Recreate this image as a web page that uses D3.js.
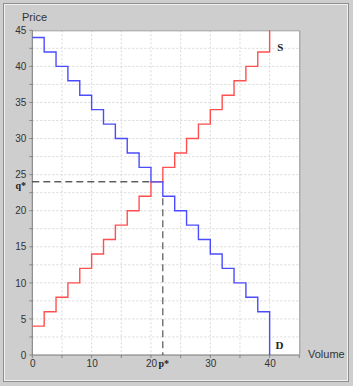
<!DOCTYPE html>
<html><head><meta charset="utf-8">
<script src="https://cdn.jsdelivr.net/npm/d3@7"></script>
<style>
html,body{margin:0;padding:0;background:#cecece;}
svg{display:block;}
</style></head>
<body>
<svg id="c" width="353" height="386"></svg>
<script>
// Step data: each step covers [x, x+2)
const stepStarts = [0,2,4,6,8,10,12,14,16,18,20,22,24,26,28,30,32,34,36,38];
const supplyValues = [4,6,8,10,12,14,16,18,20,22,24,26,28,30,32,34,36,38,40,42];
const demandValues = [44,42,40,38,36,34,32,30,28,26,24,22,20,18,16,14,12,10,8,6];
const supplyEnd = {x:40, y:45};
const demandEnd = {x:40, y:0};
const xTicks = [0,10,20,30,40];
const yTicks = [0,5,10,15,20,25,30,35,40,45];
const eq = {q:24, pStart:20, pX:22, pTop:22};

const sans="'Liberation Sans',Arial,sans-serif";
const serif="'Liberation Serif','DejaVu Serif',serif";
const svg = d3.select("#c");
const L=32.3, R=299.3, T=30.3, B=355;
const x = d3.scaleLinear().domain([0,45]).range([L,R]);
const y = d3.scaleLinear().domain([0,45]).range([B,T]);

// outer etched border
svg.append("rect").attr("x",3.5).attr("y",3.5).attr("width",345).attr("height",378)
  .attr("fill","none").attr("stroke","#8f8f8f");
svg.append("rect").attr("x",4.5).attr("y",4.5).attr("width",343).attr("height",376)
  .attr("fill","none").attr("stroke","#f0f0f0");

// plot background
svg.append("rect").attr("x",L).attr("y",T).attr("width",R-L).attr("height",B-T).attr("fill","#fff");

// grid
const g = svg.append("g");
g.selectAll(".gx").data(d3.range(5,45,5)).join("line")
  .attr("x1",d=>x(d)).attr("x2",d=>x(d)).attr("y1",T).attr("y2",B)
  .attr("stroke","#d8d8d8").attr("stroke-dasharray","2,2");
g.selectAll(".gy").data(d3.range(2.5,45,2.5)).join("line")
  .attr("y1",d=>y(d)).attr("y2",d=>y(d)).attr("x1",L).attr("x2",R)
  .attr("stroke","#d8d8d8").attr("stroke-dasharray","2,2");

// frame top/right
svg.append("path").attr("d",`M${L},${T+0.5}H${R+0.5}V${B}`).attr("fill","none").attr("stroke","#999");

// axes
const xAxis = d3.axisBottom(x).tickValues(xTicks).tickSize(0).tickPadding(5).tickFormat(d3.format("d"));
const yAxis = d3.axisLeft(y).tickValues(yTicks).tickSize(0).tickPadding(6).tickFormat(d3.format("d"));
const ga = svg.append("g").attr("transform",`translate(0,${B})`).call(xAxis);
const gb = svg.append("g").attr("transform",`translate(${L},0)`).call(yAxis);
[ga,gb].forEach(a=>{a.select(".domain").remove();a.attr("font-family",sans).attr("font-size",10);a.selectAll("text").attr("fill","#333");});
// ticks
svg.selectAll(".tx").data(d3.range(0,46,5)).join("line")
  .attr("x1",d=>x(d)).attr("x2",d=>x(d)).attr("y1",B).attr("y2",B+3).attr("stroke","#888");
svg.selectAll(".ty").data(d3.range(0,46,2.5)).join("line")
  .attr("y1",d=>y(d)).attr("y2",d=>y(d)).attr("x1",L-3).attr("x2",L).attr("stroke","#888");
svg.append("path").attr("d",`M${L},${T}V${B}H${R}`).attr("fill","none").attr("stroke","#777");

// step paths
function stepPath(vals,end){
  const p=d3.path();
  vals.forEach((v,i)=>{
    const x0=x(stepStarts[i]), x1=x(stepStarts[i]+2);
    if(i===0)p.moveTo(x0,y(v)); else p.lineTo(x0,y(v));
    p.lineTo(x1,y(v));
  });
  p.lineTo(x(end.x),y(end.y));
  return p.toString();
}
svg.append("path").attr("d",stepPath(supplyValues,supplyEnd)).attr("fill","none")
  .attr("stroke","#ff5050").attr("stroke-width",1.4);
svg.append("path").attr("d",stepPath(demandValues,demandEnd)).attr("fill","none")
  .attr("stroke","#4c4cff").attr("stroke-width",1.4);

// equilibrium dashed lines
svg.append("line").attr("x1",x(0)).attr("x2",x(eq.pStart)).attr("y1",y(eq.q)).attr("y2",y(eq.q))
  .attr("stroke","#111").attr("stroke-dasharray","7,4").attr("stroke-width",1);
svg.append("line").attr("x1",x(eq.pX)).attr("x2",x(eq.pX)).attr("y1",y(eq.pTop)+2).attr("y2",y(0))
  .attr("stroke","#333").attr("stroke-dasharray","7,4").attr("stroke-width",1);

// labels
function lab(xx,yy,t,opt){
  const e=svg.append("text").attr("x",xx).attr("y",yy).text(t)
    .attr("font-family",opt.f).attr("font-size",opt.s).attr("fill",opt.c||"#222");
  if(opt.b)e.attr("font-weight","bold");
  if(opt.a)e.attr("text-anchor",opt.a);
  return e;
}
lab(x(eq.pX)+1,B+12,"p*",{f:serif,s:10,b:1,a:"middle"});
lab(26,y(eq.q)+7,"q*",{f:serif,s:10,b:1,a:"end"});
lab(x(41.3),y(42.2),"S",{f:serif,s:11,b:1});
lab(x(41),y(0.9),"D",{f:serif,s:11,b:1});
lab(22,21,"Price",{f:sans,s:11,c:"#333"});
lab(308,358,"Volume",{f:sans,s:11,c:"#333"});
</script>
</body></html>
